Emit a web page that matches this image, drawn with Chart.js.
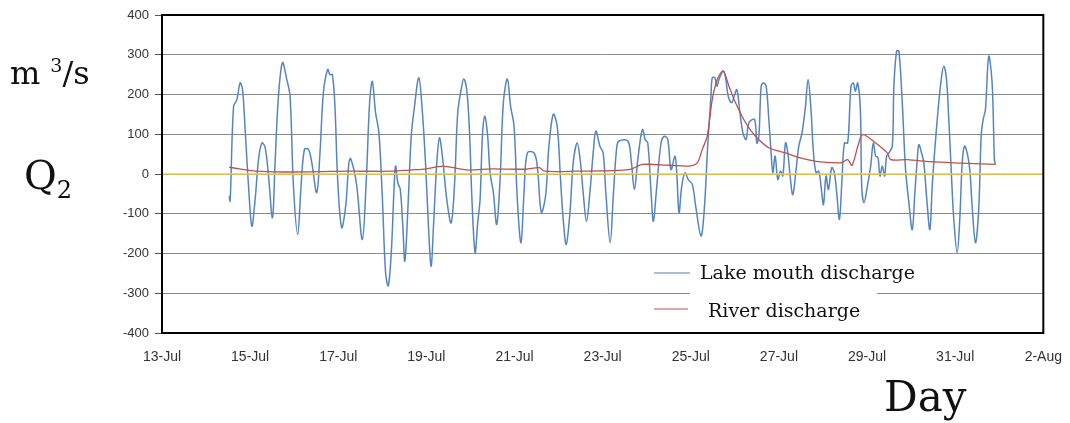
<!DOCTYPE html>
<html>
<head>
<meta charset="utf-8">
<script src="https://cdn.jsdelivr.net/npm/chart.js@4.4.1/dist/chart.umd.min.js"></script>
<style>
  html, body { margin: 0; padding: 0; background: #fff; }
  #wrap { position: relative; width: 1070px; height: 423px; }
  .lbl { position: absolute; font-family: 'DejaVu Serif', 'Liberation Serif', serif; color: #111; white-space: nowrap; }
</style>
</head>
<body>
<div id="wrap">
  <canvas id="flowChart" width="1070" height="423"></canvas>
  <div class="lbl" style="left:10px; top:54px; font-size:32px;">m<sup style="font-size:19px; margin-left:10px;">3</sup>/s</div>
  <div class="lbl" style="left:24px; top:152px; font-size:40px;">Q<sub style="font-size:24px;">2</sub></div>
  <div class="lbl" style="left:884px; top:372px; font-size:42px;">Day</div>
</div>
<script>
// x = days after 13-Jul
const tickLabels = ['13-Jul', '15-Jul', '17-Jul', '19-Jul', '21-Jul', '23-Jul', '25-Jul', '27-Jul', '29-Jul', '31-Jul', '2-Aug'];

const lakeDays = [
  1.524, 1.547, 1.624, 1.699, 1.773, 1.828, 1.887, 1.964, 2.039, 2.113, 2.190, 2.265, 2.340, 2.417, 2.507, 2.566,
  2.643, 2.734, 2.831, 2.906, 2.983, 3.080, 3.155, 3.232, 3.323, 3.398, 3.511, 3.585, 3.663, 3.760, 3.812, 3.866,
  3.925, 3.986, 4.077, 4.168, 4.242, 4.281, 4.410, 4.546, 4.636, 4.711, 4.772, 4.847, 4.922, 4.999, 5.074, 5.135,
  5.203, 5.262, 5.300, 5.352, 5.407, 5.465, 5.511, 5.579, 5.656, 5.730, 5.828, 5.905, 5.980, 6.054, 6.109, 6.161,
  6.236, 6.297, 6.371, 6.462, 6.562, 6.636, 6.711, 6.788, 6.847, 6.915, 6.976, 7.037, 7.105, 7.164, 7.218, 7.271,
  7.323, 7.384, 7.445, 7.520, 7.595, 7.672, 7.746, 7.837, 7.911, 7.989, 8.063, 8.147, 8.215, 8.290, 8.442, 8.516,
  8.607, 8.704, 8.781, 8.879, 8.969, 9.044, 9.105, 9.173, 9.257, 9.332, 9.422, 9.497, 9.558, 9.633, 9.710, 9.785,
  9.846, 9.937, 10.011, 10.072, 10.170, 10.245, 10.322, 10.374, 10.571, 10.646, 10.720, 10.797, 10.872, 10.911,
  10.963, 11.024, 11.099, 11.151, 11.228, 11.325, 11.400, 11.477, 11.552, 11.642, 11.681, 11.733, 11.794, 11.869,
  11.943, 12.034, 12.111, 12.231, 12.306, 12.383, 12.458, 12.487, 12.548, 12.593, 12.639, 12.736, 12.790, 12.849,
  12.926, 12.985, 13.046, 13.107, 13.182, 13.257, 13.318, 13.447, 13.499, 13.545, 13.597, 13.651, 13.710, 13.771,
  13.823, 13.862, 13.914, 13.975, 14.036, 14.088, 14.149, 14.202, 14.254, 14.315, 14.390, 14.451, 14.525, 14.602,
  14.661, 14.723, 14.784, 14.843, 14.904, 14.956, 15.010, 15.069, 15.123, 15.198, 15.259, 15.311, 15.373, 15.431,
  15.486, 15.561, 15.635, 15.690, 15.735, 15.787, 15.848, 15.878, 15.930, 16.007, 16.082, 16.142, 16.195, 16.247,
  16.292, 16.346, 16.399, 16.444, 16.496, 16.573, 16.609, 16.670, 16.723, 16.799, 16.874, 16.949, 17.026, 17.085,
  17.139, 17.175, 17.237, 17.289, 17.350, 17.425, 17.479, 17.531, 17.606, 17.683, 17.742, 17.803, 17.855, 17.909,
  17.968, 18.045, 18.104, 18.159, 18.211, 18.272, 18.331, 18.385, 18.460, 18.534, 18.589, 18.634, 18.686, 18.761,
  18.838, 18.890, 18.913
];
const lakeFlow = [
  -56, -68, 170, 187, 229, 212, 112, -31, -131, -64, 36, 78, 67, -5, -110, 29,
  196, 280, 238, 196, -31, -152, -31, 62, 62, 29, -47, 53, 205, 263, 250, 250,
  170, -14, -135, -81, 29, 39, -22, -165, -14, 179, 233, 154, 104, -56, -249, -281,
  -198, -47, 20, -22, -39, -131, -219, -89, 95, 170, 242, 162, 28, -148, -232, -131,
  28, 91, 36, -64, -123, -31, 154, 212, 239, 212, 112, -72, -198, -123, -64, 95,
  145, 104, 3, -47, -127, -14, 179, 239, 170, 120, -64, -173, -47, 53, 53, 20,
  -96, -56, 70, 150, 120, -14, -114, -177, -98, 28, 78, 28, -47, -119, -47, 53,
  108, 70, 53, -47, -173, -47, 70, 83, 83, 36, -39, 36, 99, 112,
  87, 78, -47, -119, -31, 78, 95, 87, 11, 45, 3, -98, -31, 3,
  -14, -26, -81, -156, -89, 70, 196, 242, 242, 221, 238, 259, 242, 196,
  179, 196, 212, 162, 104, 87, 129, 137, 78, 95, 221, 229, 221, 137,
  53, 3, 45, -14, 7, -5, 78, 53, -5, -52, 11, 70, 104, 170,
  238, 170, 53, 3, 7, -31, -77, -5, -39, 16, 3, -47, -114, -14,
  78, 78, 221, 229, 208, 229, 162, -30, -72, -31, 20, 78, 45, 42,
  -5, 20, -5, 45, 53, 70, 221, 309, 309, 179, 11, -72, -140, -47,
  36, 74, 53, 28, -56, -140, -31, 53, 154, 238, 271, 238, 137, 11,
  -114, -198, -114, 28, 70, 53, 11, -81, -173, -89, 95, 137, 162, 296,
  229, 36, 24
];

const riverDays = [
  1.524, 2.145, 2.741, 4.258, 5.232, 5.617, 5.995, 6.371, 6.750, 6.976, 7.497, 8.260, 8.562, 8.675, 9.393,
  10.600, 10.902, 11.506, 11.959, 12.147, 12.260, 12.373, 12.487, 12.600, 12.736, 12.865, 13.016, 13.243,
  13.469, 13.771, 14.149, 14.466, 14.843, 15.373, 15.448, 15.561, 15.658, 15.791, 15.900, 16.195, 16.460,
  16.535, 16.913, 17.438, 17.968, 18.913
];
const riverFlow = [
  17, 7, 5, 7, 7, 10, 13, 20, 13, 10, 13, 12, 16, 7, 7,
  11, 24, 22, 20, 28, 62, 95, 187, 238, 259, 221, 179, 129,
  95, 66, 53, 41, 32, 28, 30, 36, 22, 70, 99, 78, 53,
  36, 36, 31, 28, 24
];

function pairs(xs, ys) {
  return xs.map((x, i) => ({ x: x, y: ys[i] }));
}

const framePlugin = {
  id: 'frame',
  afterDraw(chart) {
    const { ctx, chartArea: a } = chart;
    ctx.save();
    // legend box (covers the gridline behind it)
    ctx.fillStyle = '#fff';
    ctx.fillRect(a.left + 528, a.bottom - 47, 187, 14);
    ctx.font = '19px "DejaVu Serif", serif';
    ctx.fillStyle = '#111';
    ctx.textBaseline = 'middle';
    ctx.lineWidth = 1.2;
    ctx.strokeStyle = '#4a7ebb';
    ctx.beginPath(); ctx.moveTo(a.left + 492, a.bottom - 60); ctx.lineTo(a.left + 528, a.bottom - 60); ctx.stroke();
    ctx.fillText('Lake mouth discharge', a.left + 538, a.bottom - 59);
    ctx.strokeStyle = '#c0504d';
    ctx.beginPath(); ctx.moveTo(a.left + 492, a.bottom - 24); ctx.lineTo(a.left + 526, a.bottom - 24); ctx.stroke();
    ctx.fillText('River discharge', a.left + 546, a.bottom - 21);
    // plot frame
    ctx.strokeStyle = '#000';
    ctx.lineWidth = 2;
    ctx.strokeRect(a.left, a.top, a.right - a.left, a.bottom - a.top);
    ctx.restore();
  }
};

new Chart(document.getElementById('flowChart'), {
  type: 'line',
  data: {
    datasets: [
      {
        label: 'zero',
        data: [{ x: 0, y: 0 }, { x: 20, y: 0 }],
        borderColor: '#f4cf3e',
        borderWidth: 1.5,
        pointRadius: 0,
        clip: false,
      },
      {
        label: 'River discharge',
        data: pairs(riverDays, riverFlow),
        borderColor: '#c0504d',
        borderWidth: 1.3,
        pointRadius: 0,
        tension: 0.3,
      },
      {
        label: 'Lake mouth discharge',
        data: pairs(lakeDays, lakeFlow),
        borderColor: '#5585c0',
        borderWidth: 1.5,
        pointRadius: 0,
        tension: 0.35,
      },
    ],
  },
  options: {
    responsive: false,
    animation: false,
    layout: { padding: { top: 15, right: 18, left: 0, bottom: 0 } },
    plugins: {
      legend: { display: false },
      tooltip: { enabled: false },
    },
    scales: {
      x: {
        type: 'linear',
        min: 0,
        max: 20,
        afterFit: (s) => { s.height = 90; },
        afterBuildTicks: (s) => { s.ticks = tickLabels.map((_, i) => ({ value: i * 2 })); },
        ticks: {
          autoSkip: false,
          maxRotation: 0,
          padding: 8,
          color: '#333',
          font: { family: '"Liberation Sans Narrow", "Liberation Sans", sans-serif', size: 14 },
          callback: (v) => tickLabels[v / 2],
        },
        grid: { display: false },
        border: { display: false },
      },
      y: {
        min: -400,
        max: 400,
        afterFit: (s) => { s.width = 162; },
        ticks: {
          stepSize: 100,
          padding: 6,
          color: '#333',
          font: { family: '"Liberation Sans", sans-serif', size: 13 },
        },
        grid: { color: '#8c8c8c', lineWidth: 1, tickLength: 7, tickColor: '#555' },
        border: { display: false },
      },
    },
  },
  plugins: [framePlugin],
});
</script>
</body>
</html>
